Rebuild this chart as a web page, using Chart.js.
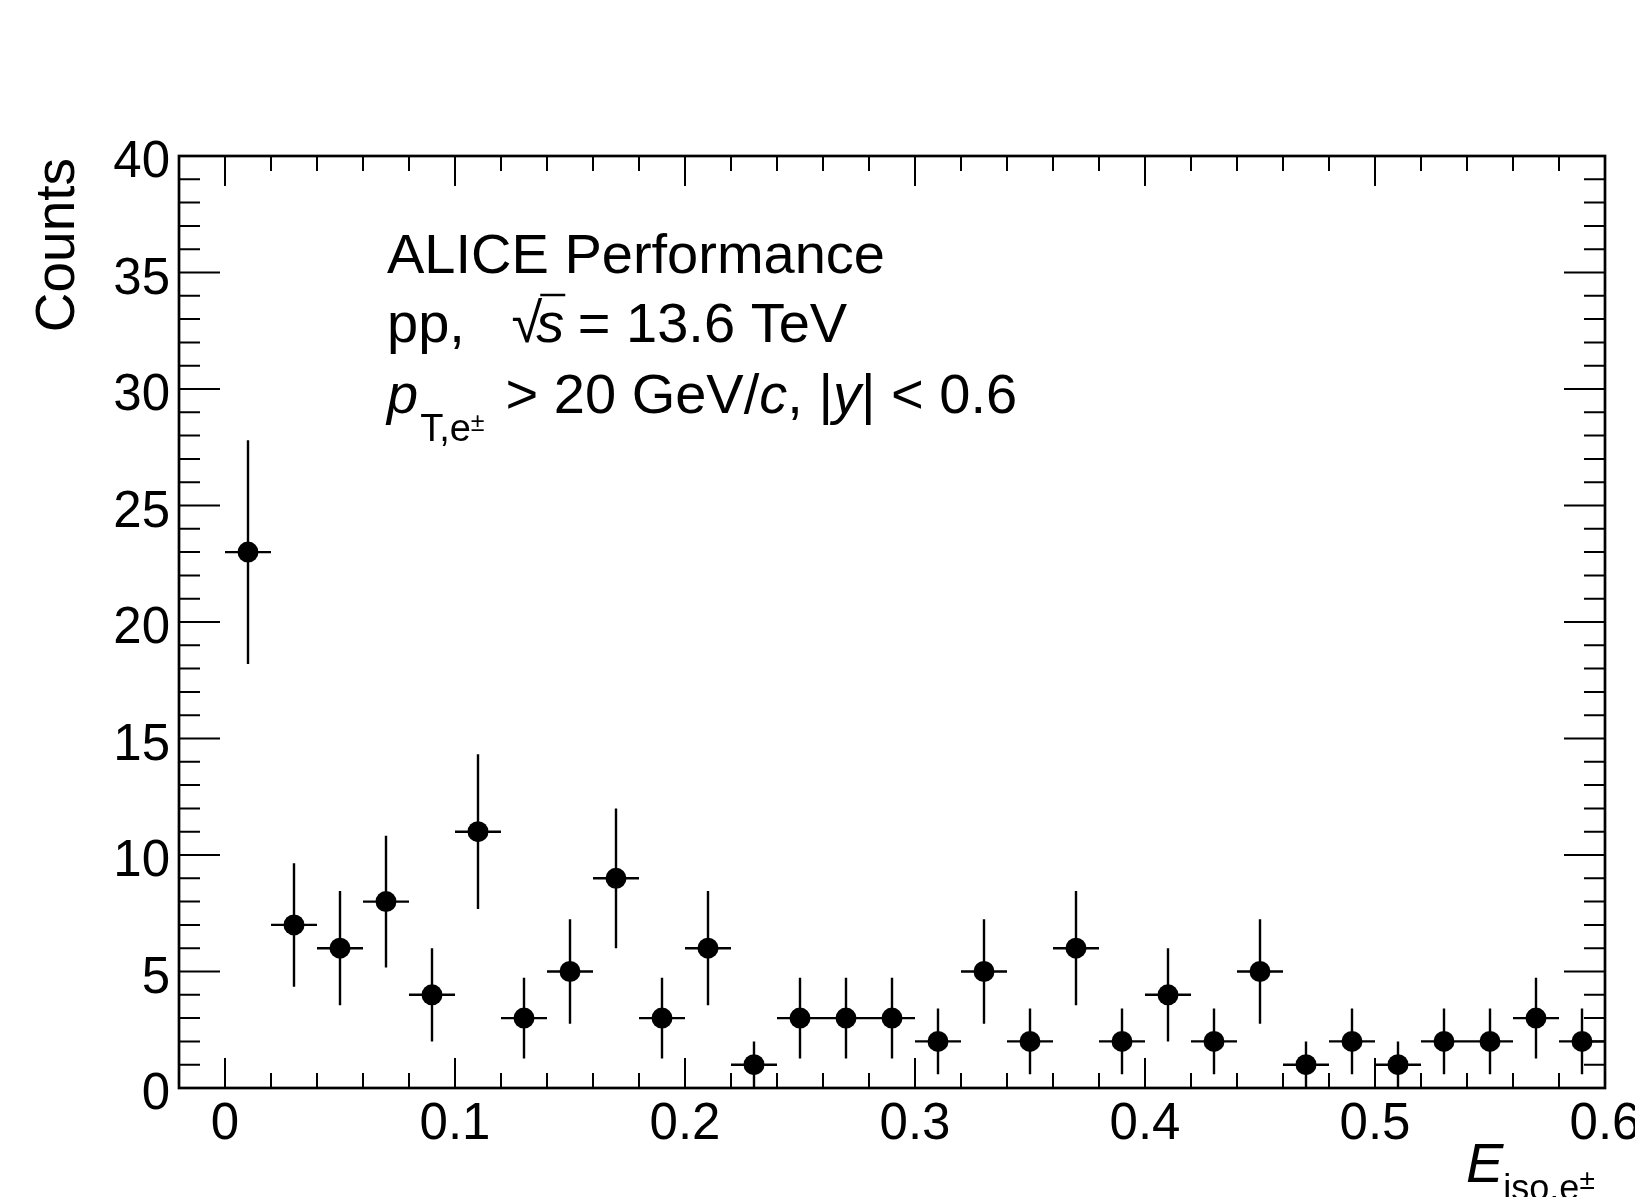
<!DOCTYPE html>
<html>
<head>
<meta charset="utf-8">
<script src="https://cdn.jsdelivr.net/npm/chart.js@4.4.1/dist/chart.umd.min.js"></script>
<style>
  html, body { margin: 0; padding: 0; background: #fff; }
  #wrap { width: 1635px; height: 1197px; }
</style>
</head>
<body>
<div id="wrap"><canvas id="chart" width="1635" height="1197"></canvas></div>
<script>
// bin centres (E_iso), counts and their errors
var binCenters = [0.01, 0.03, 0.05, 0.07, 0.09, 0.11, 0.13, 0.15, 0.17, 0.19,
                  0.21, 0.23, 0.25, 0.27, 0.29, 0.31, 0.33, 0.35, 0.37, 0.39,
                  0.41, 0.43, 0.45, 0.47, 0.49, 0.51, 0.53, 0.55, 0.57, 0.59];
var counts = [23, 7, 6, 8, 4, 11, 3, 5, 9, 3,
              6, 1, 3, 3, 3, 2, 5, 2, 6, 2,
              4, 2, 5, 1, 2, 1, 2, 2, 3, 2];
var errors = [4.8, 2.65, 2.45, 2.83, 2.0, 3.32, 1.73, 2.24, 3.0, 1.73,
              2.45, 1.0, 1.73, 1.73, 1.73, 1.41, 2.24, 1.41, 2.45, 1.41,
              2.0, 1.41, 2.24, 1.0, 1.41, 1.0, 1.41, 1.41, 1.73, 1.41];
var binWidth = 0.02;

var xTickValues = [0, 0.1, 0.2, 0.3, 0.4, 0.5, 0.6];
var xTickLabels = ['0', '0.1', '0.2', '0.3', '0.4', '0.5', '0.6'];
var yTickValues = [0, 5, 10, 15, 20, 25, 30, 35, 40];
var yTickLabels = ['0', '5', '10', '15', '20', '25', '30', '35', '40'];

var FONT = '"Liberation Sans", Arial, Helvetica, sans-serif';

function font(size, italic) {
  return (italic ? 'italic ' : '') + size + 'px ' + FONT;
}

// draw a run of text pieces one after another, returns the end x
function drawRich(ctx, x, y, parts) {
  parts.forEach(function (p) {
    x += p.dx || 0;
    ctx.font = font(p.size, p.italic);
    ctx.fillText(p.text, x, y + (p.dy || 0));
    x += ctx.measureText(p.text).width;
  });
  return x;
}

var rootStyle = {
  id: 'rootStyle',

  beforeDatasetsDraw: function (chart) {
    var ctx = chart.ctx, xs = chart.scales.x, ys = chart.scales.y;
    ctx.save();
    ctx.strokeStyle = '#000';
    ctx.lineWidth = 2.4;
    ctx.beginPath();
    for (var i = 0; i < counts.length; i++) {
      var px = xs.getPixelForValue(binCenters[i]),
        py = ys.getPixelForValue(counts[i]);
      ctx.moveTo(px, ys.getPixelForValue(counts[i] - errors[i]));
      ctx.lineTo(px, ys.getPixelForValue(counts[i] + errors[i]));
      ctx.moveTo(xs.getPixelForValue(binCenters[i] - binWidth / 2), py);
      ctx.lineTo(xs.getPixelForValue(binCenters[i] + binWidth / 2), py);
    }
    ctx.stroke();
    ctx.restore();
  },

  afterDatasetsDraw: function (chart) {
    var ctx = chart.ctx, xs = chart.scales.x, ys = chart.scales.y,
      a = chart.chartArea, i, p;
    ctx.save();
    ctx.strokeStyle = '#000';
    ctx.fillStyle = '#000';

    // ticks, ROOT style: inside the frame, on all four sides
    ctx.lineWidth = 2;
    ctx.beginPath();
    for (i = -1; i <= 30; i++) {
      p = xs.getPixelForValue(i * 0.02);
      var major = (i % 5 === 0);
      ctx.moveTo(p, a.bottom);
      ctx.lineTo(p, a.bottom - (major ? 30 : 15));
      ctx.moveTo(p, a.top);
      ctx.lineTo(p, a.top + (major ? 30 : 15));
    }
    for (i = 0; i <= 40; i++) {
      p = ys.getPixelForValue(i);
      var len = (i % 5 === 0) ? 41 : 21;
      ctx.moveTo(a.left, p);
      ctx.lineTo(a.left + len, p);
      ctx.moveTo(a.right, p);
      ctx.lineTo(a.right - len, p);
    }
    ctx.stroke();

    // frame
    ctx.lineWidth = 2.7;
    ctx.strokeRect(a.left, a.top, a.right - a.left, a.bottom - a.top);

    // tick labels
    ctx.font = font(51);
    ctx.textAlign = 'center';
    ctx.textBaseline = 'alphabetic';
    xTickValues.forEach(function (v, k) {
      ctx.fillText(xTickLabels[k], xs.getPixelForValue(v), a.bottom + 51);
    });
    ctx.textAlign = 'right';
    yTickValues.forEach(function (v, k) {
      ctx.fillText(yTickLabels[k], a.left - 9, ys.getPixelForValue(v) + 21);
    });

    // axis titles
    ctx.save();
    ctx.translate(74, a.top + 2);
    ctx.rotate(-Math.PI / 2);
    ctx.textAlign = 'right';
    ctx.font = font(55);
    ctx.fillText('Counts', 0, 0);
    ctx.restore();

    ctx.textAlign = 'left';
    drawRich(ctx, 1466, 1182, [
      {text: 'E', size: 56, italic: true},
      {text: 'iso,e', size: 36, dy: 18},
      {text: '\u00b1', size: 28, dy: 7}
    ]);

    // labels
    ctx.font = font(56);
    ctx.fillText('ALICE Performance', 387, 273);

    var sx = drawRich(ctx, 387, 342, [{text: 'pp,   \u221a', size: 56}]);
    var ex = drawRich(ctx, sx - 6, 342, [{text: 's', size: 56, italic: true}]);
    ctx.lineWidth = 2.5;
    ctx.beginPath();
    ctx.moveTo(sx - 2, 295);
    ctx.lineTo(ex + 1, 295);
    ctx.stroke();
    drawRich(ctx, ex - 2, 342, [{text: ' = 13.6 TeV', size: 56}]);

    drawRich(ctx, 387, 413, [
      {text: 'p', size: 56, italic: true},
      {text: 'T,e', size: 38, dy: 28, dx: 2},
      {text: '\u00b1', size: 25, dy: 18},
      {text: '> 20 GeV/', size: 56, dx: 21},
      {text: 'c', size: 56, italic: true},
      {text: ', |', size: 56},
      {text: 'y', size: 56, italic: true},
      {text: '| < 0.6', size: 56}
    ]);
    ctx.restore();
  }
};

var points = binCenters.map(function (x, i) {
  return {x: x, y: counts[i]};
});

new Chart(document.getElementById('chart'), {
  type: 'scatter',
  data: {
    datasets: [{
      data: points,
      pointRadius: 10.5,
      pointHoverRadius: 10.5,
      backgroundColor: '#000',
      borderWidth: 0
    }]
  },
  options: {
    responsive: false,
    animation: false,
    devicePixelRatio: 1,
    events: [],
    layout: {padding: {left: 179, right: 30, top: 156, bottom: 109}},
    scales: {
      x: {type: 'linear', min: -0.02, max: 0.6, display: false},
      y: {type: 'linear', min: 0, max: 40, display: false}
    },
    plugins: {
      legend: {display: false},
      tooltip: {enabled: false}
    }
  },
  plugins: [rootStyle]
});
</script>
</body>
</html>
